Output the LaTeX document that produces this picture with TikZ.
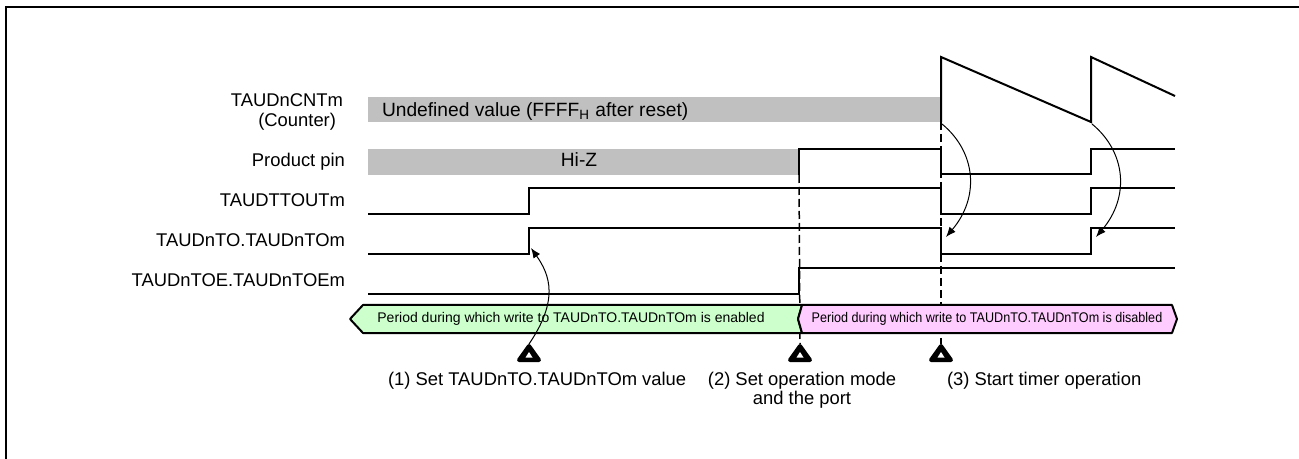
\documentclass[tikz,border=0pt]{standalone}
\usepackage{fontspec}
\setmainfont{Liberation Sans}
\newfontfamily\narrowsans[FakeStretch=0.9]{Liberation Sans}
\usetikzlibrary{arrows.meta}
\begin{document}
\begin{tikzpicture}[x=.5pt,y=-.5pt,
  sig/.style={fill=none,draw=black,line width=1pt},
  band/.style={fill={rgb,255:red,192;green,192;blue,192},draw=none},
  lbl/.style={inner sep=0pt,outer sep=0pt,anchor=base east,font=\fontsize{9.2}{11}\selectfont},
  note/.style={inner sep=0pt,outer sep=0pt,anchor=base west,font=\fontsize{9.2}{11}\selectfont},
  guide/.style={draw=black,line width=0.75pt,dash pattern=on 4pt off 2pt},
  conn/.style={draw=black,line width=0.5pt,-{Latex[length=5pt,width=4pt]}},
  period/.style={inner sep=0pt,outer sep=0pt,font=\fontsize{7}{8.4}\selectfont}]
\path[use as bounding box] (0,0) rectangle (1299,459);
\path[fill=white,draw=none] (0,0) rectangle (1299,459);
\draw[fill=none,draw=black,line width=1.3pt] (6,459) -- (6,7) -- (1299,7);
\node[lbl] (cntlbl) at (343,107) {TAUDnCNTm};
\node[lbl] (cntsub) at (336,127) {(Counter)};
\node[lbl] (pinlbl) at (345,167) {Product pin};
\node[lbl] (ttoutlbl) at (345,207) {TAUDTTOUTm};
\node[lbl] (tolbl) at (345,247) {TAUDnTO.TAUDnTOm};
\node[lbl] (toelbl) at (345,287) {TAUDnTOE.TAUDnTOEm};
\path[band] (368,97) rectangle (941,122);
\node[note,font=\fontsize{9.6}{11.5}\selectfont] (undef) at (382,117) {Undefined value (FFFF\textsubscript{H} after reset)};
\path[band] (368,149) rectangle (799,175);
\node[note,anchor=base,font=\fontsize{9.6}{11.5}\selectfont] (hiz) at (579,167) {Hi-Z};
\coordinate (mk1) at (529,344);
\coordinate (mk2) at (800,344);
\coordinate (mk3) at (941,344);
\draw[guide] (799,175) -- (mk2);
\draw[guide] (941,122) -- (mk3);
\draw[sig] (941,122) -- (941,57) -- (1091,122) -- (1091,57) -- (1175,96);
\draw[sig] (799,175) -- (799,149) -- (941,149) -- (941,174) -- (1091,174) -- (1091,149) -- (1175,149);
\draw[sig] (368,214) -- (529,214) -- (529,188) -- (941,188) -- (941,214) -- (1091,214) -- (1091,188) -- (1175,188);
\draw[sig] (368,254) -- (529,254) -- (529,228) -- (941,228) -- (941,254) -- (1091,254) -- (1091,228) -- (1175,228);
\draw[sig] (368,294) -- (799,294) -- (799,268) -- (1175,268);
\path[fill={rgb,255:red,204;green,255;blue,204},draw=black,line width=1pt,line join=round] (363,305) -- (802,305) -- (798,319) -- (802,333) -- (363,333) -- (350,319) -- cycle;
\path[fill={rgb,255:red,255;green,204;blue,255},draw=black,line width=1pt,line join=round] (802,305) -- (1172,305) -- (1177,319) -- (1172,333) -- (802,333) -- (798,319) -- cycle;
\node[period] (wen) at (571,319) {Period during which write to TAUDnTO.TAUDnTOm is enabled};
\node[period,font=\narrowsans\fontsize{7}{8.4}\selectfont] (wdis) at (987,319) {Period during which write to TAUDnTO.TAUDnTOm is disabled};
\foreach \mx in {529,800,941} {
  \path[fill=black,draw=black,line width=2pt,line join=round] (\mx-10,360) -- (\mx,346) -- (\mx+10,360) -- cycle;
  \fill[white] (\mx-3.5,357.5) -- (\mx,352) -- (\mx+3.5,357.5) -- cycle;
}
\node[note] (step1) at (388,385) {(1) Set TAUDnTO.TAUDnTOm value};
\node[note,anchor=base] (step2) at (802,385) {(2) Set operation mode};
\node[note,anchor=base] (step2b) at (802,404) {and the port};
\node[note] (step3) at (947,385) {(3) Start timer operation};
\coordinate (to1) at (531,248);
\coordinate (cnt1) at (942,124);
\coordinate (to2) at (946,237);
\coordinate (cnt2) at (1092,124);
\coordinate (to3) at (1096,237);
\draw[conn] (mk1) .. controls +(30,-44) and +(19,27) .. (to1);
\draw[conn] (cnt1) .. controls +(34,28) and +(34,-40) .. (to2);
\draw[conn] (cnt2) .. controls +(34,28) and +(34,-40) .. (to3);
\end{tikzpicture}
\end{document}
